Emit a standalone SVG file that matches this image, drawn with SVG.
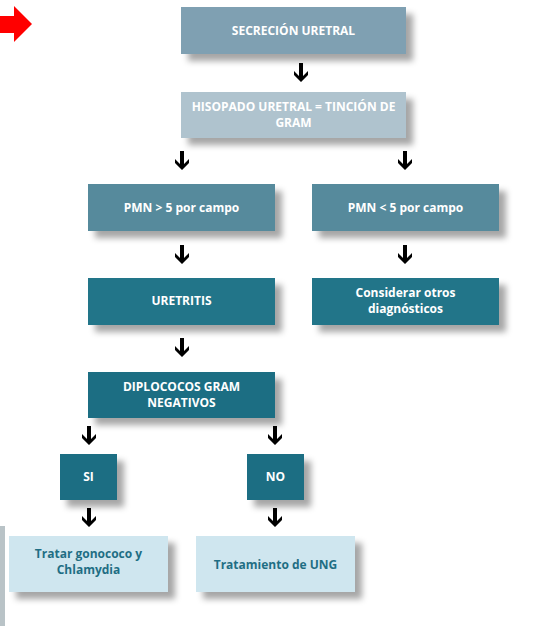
<svg xmlns="http://www.w3.org/2000/svg" xmlns:xlink="http://www.w3.org/1999/xlink" width="535" height="626" viewBox="0 0 535 626">
<defs>
<filter id="sh" x="-20%" y="-30%" width="150%" height="180%">
<feDropShadow dx="7" dy="7" stdDeviation="3" flood-color="#000" flood-opacity="0.35"/>
</filter>
<path id="arr" d="M-2,-18 L2,-18 L2,-5 L7,-10 L7,-6 L0,1 L-7,-6 L-7,-10 L-2,-5 Z" fill="#000"/>
</defs>
<style>
text{font-family:"Open Sans","Liberation Sans",sans-serif;font-weight:bold;font-size:12px;text-anchor:middle}
.w{fill:#fff}
.t{fill:#1f6e84}
</style>
<rect x="0" y="0" width="535" height="626" fill="#fff"/>
<rect x="0" y="526" width="5" height="100" fill="#b9c3c7"/>
<path d="M0,16 L14,16 L14,6 L32,24 L14,42 L14,33 L0,33 Z" fill="#ff0000"/>
<g id="n1"><rect x="181" y="7" width="225" height="47" fill="#7fa0b2" filter="url(#sh)"/><text class="w" x="293.5" y="35">SECRECIÓN URETRAL</text></g>
<g id="n2"><rect x="181" y="92" width="225" height="46" fill="#afc3ce" filter="url(#sh)"/><text class="w" x="293.5" y="111">HISOPADO URETRAL = TINCIÓN DE</text><text class="w" x="293.5" y="127">GRAM</text></g>
<g id="n3"><rect x="88" y="184" width="187" height="47" fill="#568a9c" filter="url(#sh)"/><text class="w" x="181.5" y="212">PMN &gt; 5 por campo</text></g>
<g id="n4"><rect x="312" y="184" width="187" height="47" fill="#568a9c" filter="url(#sh)"/><text class="w" x="405.5" y="212">PMN &lt; 5 por campo</text></g>
<g id="n5"><rect x="88" y="278" width="187" height="47" fill="#237489" filter="url(#sh)"/><text class="w" x="181.5" y="305">URETRITIS</text></g>
<g id="n6"><rect x="312" y="278" width="187" height="47" fill="#237489" filter="url(#sh)"/><text class="w" x="405.5" y="297">Considerar otros</text><text class="w" x="405.5" y="313">diagnósticos</text></g>
<g id="n7"><rect x="88" y="372" width="187" height="46" fill="#1b6e83" filter="url(#sh)"/><text class="w" x="181.5" y="391">DIPLOCOCOS GRAM</text><text class="w" x="181.5" y="407">NEGATIVOS</text></g>
<g id="n8"><rect x="60" y="454" width="57" height="46" fill="#1b6e83" filter="url(#sh)"/><text class="w" x="88.5" y="481">SI</text></g>
<g id="n9"><rect x="247" y="454" width="57" height="46" fill="#1b6e83" filter="url(#sh)"/><text class="w" x="275.5" y="481">NO</text></g>
<g id="n10"><rect x="9" y="536" width="159" height="56" fill="#cfe6ef" filter="url(#sh)"/><text class="t" x="88.5" y="558">Tratar gonococo y</text><text class="t" x="88.5" y="574">Chlamydia</text></g>
<g id="n11"><rect x="196" y="536" width="159" height="56" fill="#cfe6ef" filter="url(#sh)"/><text class="t" x="275.5" y="569">Tratamiento de UNG</text></g>
<g id="connectors">
<use href="#arr" xlink:href="#arr" x="301" y="81"/>
<use href="#arr" xlink:href="#arr" x="182" y="169"/>
<use href="#arr" xlink:href="#arr" x="405" y="169"/>
<use href="#arr" xlink:href="#arr" x="182" y="263"/>
<use href="#arr" xlink:href="#arr" x="405" y="263"/>
<use href="#arr" xlink:href="#arr" x="182" y="356"/>
<use href="#arr" xlink:href="#arr" x="89" y="444"/>
<use href="#arr" xlink:href="#arr" x="275" y="444"/>
<use href="#arr" xlink:href="#arr" x="89" y="526"/>
<use href="#arr" xlink:href="#arr" x="275" y="526"/>
</g>
</svg>
